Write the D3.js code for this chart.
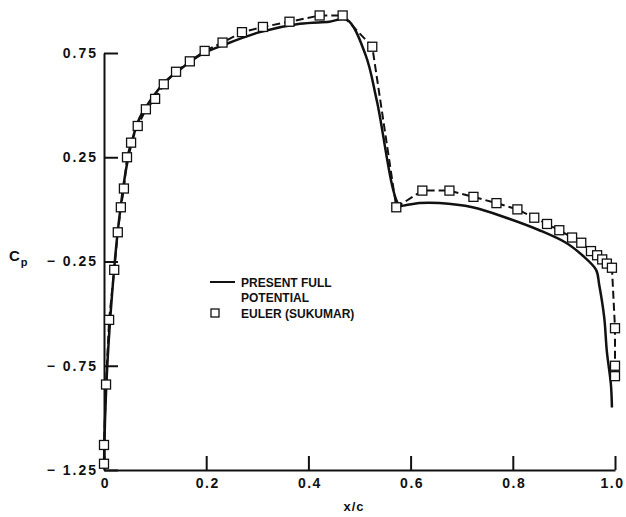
<!DOCTYPE html>
<html>
<head>
<meta charset="utf-8">
<script src="https://cdn.jsdelivr.net/npm/d3@7"></script>
<style>
  body { margin: 0; background: #fff; }
  text { font-family: "Liberation Sans", Arial, sans-serif; font-weight: bold; fill: #111; }
</style>
</head>
<body>
<script>
// full potential solution (solid line)
var fpX = [0.000, 0.002, 0.006, 0.012, 0.018, 0.025, 0.033, 0.043, 0.055, 0.070, 0.090, 0.119, 0.148, 0.188, 0.236, 0.305, 0.383, 0.441, 0.475,
           0.512, 0.534, 0.578, 0.590, 0.617, 0.656, 0.721, 0.787, 0.852, 0.904, 0.936, 0.963, 0.969, 0.979, 0.984, 0.992, 0.994];
var fpCp = [-1.23, -1.01, -0.77, -0.53, -0.34, -0.15, 0.02, 0.19, 0.33, 0.44, 0.52, 0.61, 0.67, 0.74, 0.79, 0.85, 0.89, 0.90, 0.91,
            0.74, 0.52, 0.02, 0.02, 0.03, 0.03, 0.01, -0.04, -0.10, -0.16, -0.22, -0.29, -0.36, -0.52, -0.68, -0.84, -0.95];

// Euler (Sukumar) - squares joined by dashed line
var euX = [0.000, 0.000, 0.004, 0.010, 0.020, 0.027, 0.033, 0.039, 0.045, 0.053, 0.066, 0.082, 0.100, 0.117, 0.141, 0.168, 0.197, 0.232,
           0.270, 0.311, 0.363, 0.422, 0.467, 0.525, 0.572, 0.623, 0.676, 0.723, 0.768, 0.809, 0.842, 0.867, 0.891, 0.916, 0.934,
           0.953, 0.965, 0.975, 0.984, 0.994, 1.000, 1.000, 1.000];
var euCp = [-1.22, -1.13, -0.84, -0.53, -0.29, -0.11, 0.01, 0.10, 0.25, 0.32, 0.40, 0.48, 0.53, 0.60, 0.66, 0.71, 0.76, 0.80,
            0.85, 0.875, 0.90, 0.93, 0.93, 0.78, 0.01, 0.09, 0.09, 0.06, 0.03, 0.00, -0.04, -0.07, -0.10, -0.135, -0.16,
            -0.20, -0.22, -0.24, -0.26, -0.28, -0.57, -0.75, -0.80];

// tick labels
var xTicks = [0, 0.2, 0.4, 0.6, 0.8, 1.0];
var xTickLabels = ["0", "0.2", "0.4", "0.6", "0.8", "1.0"];
var yTicks = [0.75, 0.25, -0.25, -0.75, -1.25];
var yTickLabels = ["0.75", "0.25", "\u2212 0.25", "\u2212 0.75", "\u2212 1.25"];

var W = 626, H = 517;

var svg = d3.select("body").append("svg")
    .attr("width", W)
    .attr("height", H);

var x = d3.scaleLinear().domain([0, 1]).range([104, 615]);
var y = d3.scaleLinear().domain([-1.25, 0.75]).range([470, 53]);

// axes
var xAxis = d3.axisBottom(x)
    .tickValues(xTicks)
    .tickFormat(function(d, i) { return xTickLabels[i]; })
    .tickSizeInner(-14)
    .tickSizeOuter(0)
    .tickPadding(8);

var yAxis = d3.axisLeft(y)
    .tickValues(yTicks)
    .tickFormat(function(d, i) { return yTickLabels[i]; })
    .tickSizeInner(-14)
    .tickSizeOuter(0)
    .tickPadding(6);

var gx = svg.append("g")
    .attr("transform", "translate(0," + y(-1.25) + ")")
    .call(xAxis);

var gy = svg.append("g")
    .attr("transform", "translate(" + x(0) + ",0)")
    .call(yAxis);

[gx, gy].forEach(function(g) {
    g.selectAll("path, line").attr("stroke", "#111").attr("stroke-width", 2);
    g.selectAll("text").attr("font-size", 14).attr("fill", "#111")
        .attr("font-family", "'Liberation Sans', Arial, sans-serif")
        .attr("font-weight", "bold")
        .attr("letter-spacing", 2);
});
gx.selectAll("text").attr("letter-spacing", 1.5)
    .attr("dx", function(d, i) { return i === xTicks.length - 1 ? -3 : 1; });

// axis titles
svg.append("text")
    .attr("x", 354).attr("y", 511)
    .attr("text-anchor", "middle")
    .attr("font-size", 13)
    .attr("letter-spacing", 1)
    .text("x/c");

var cp = svg.append("text")
    .attr("x", 9).attr("y", 261)
    .attr("font-size", 15);
cp.append("tspan").text("C");
cp.append("tspan").attr("dy", 5).attr("dx", 1).attr("font-size", 11).text("p");

// Euler dashed line
var euData = euX.map(function(d, i) { return [d, euCp[i]]; });
var fpData = fpX.map(function(d, i) { return [d, fpCp[i]]; });

var lineLin = d3.line()
    .x(function(d) { return x(d[0]); })
    .y(function(d) { return y(d[1]); });

var lineSmooth = d3.line()
    .x(function(d) { return x(d[0]); })
    .y(function(d) { return y(d[1]); })
    .curve(d3.curveCatmullRom.alpha(0.5));

svg.append("path")
    .datum(euData)
    .attr("d", lineLin)
    .attr("fill", "none")
    .attr("stroke", "#111")
    .attr("stroke-width", 2)
    .attr("stroke-dasharray", "8,4");

svg.append("path")
    .datum(fpData)
    .attr("d", lineSmooth)
    .attr("fill", "none")
    .attr("stroke", "#111")
    .attr("stroke-width", 2.5);

var sq = 9;
svg.selectAll("rect.eu")
    .data(euData)
    .enter()
    .append("rect")
    .attr("class", "eu")
    .attr("x", function(d) { return x(d[0]) - sq / 2; })
    .attr("y", function(d) { return y(d[1]) - sq / 2; })
    .attr("width", sq)
    .attr("height", sq)
    .attr("fill", "#fff")
    .attr("stroke", "#111")
    .attr("stroke-width", 1.3);

// legend
var lg = svg.append("g");
lg.append("line")
    .attr("x1", 210).attr("x2", 235)
    .attr("y1", 282).attr("y2", 282)
    .attr("stroke", "#111").attr("stroke-width", 2);
lg.append("text").attr("x", 241).attr("y", 287).attr("font-size", 12).text("PRESENT FULL");
lg.append("text").attr("x", 241).attr("y", 302).attr("font-size", 12).text("POTENTIAL");
lg.append("rect")
    .attr("x", 211).attr("y", 309)
    .attr("width", 8).attr("height", 8)
    .attr("fill", "#fff").attr("stroke", "#111").attr("stroke-width", 1.3);
lg.append("text").attr("x", 241).attr("y", 318).attr("font-size", 12).text("EULER (SUKUMAR)");
</script>
</body>
</html>
